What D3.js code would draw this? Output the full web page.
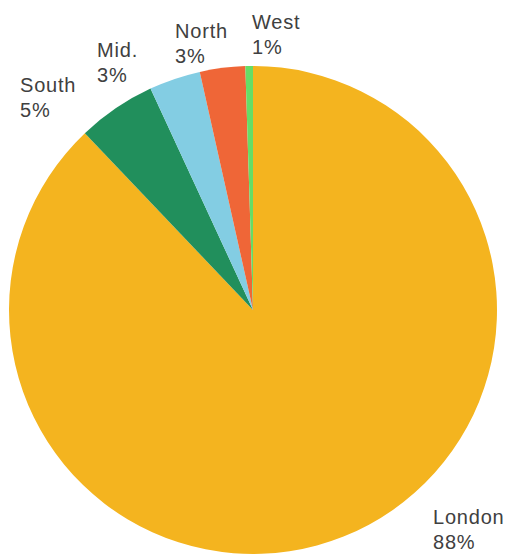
<!DOCTYPE html>
<html>
<head>
<meta charset="utf-8">
<script src="https://cdn.jsdelivr.net/npm/d3@7"></script>
<style>
  body { margin: 0; background: #fff; }
  .label { font-family: "Liberation Sans", Arial, sans-serif; font-size: 20px; fill: #404040; letter-spacing: 0.8px; }
</style>
</head>
<body>
<script>

// SVG Size
var width = 513,
    height = 557;

// Data (share of total)
var regions = ["London", "South", "Mid.", "North", "West"];
var shares  = [87.9, 5.2, 3.4, 3.0, 0.5];
var colors  = ["#F4B41F", "#218F5C", "#83CDE3", "#EF6637", "#66DD66"];

// Label anchor (left edge, first baseline) for each region
var labelPos = [[433, 524], [20, 92], [97, 57], [175, 38], [252, 29]];

var data = regions.map(function(r, i) {
  return { region: r, share: shares[i] };
});

var svg = d3.select("body").append("svg")
  .attr("width", width)
  .attr("height", height);

var cx = 253, cy = 310, radius = 244;

// Excel style: first slice starts at 12 o'clock, clockwise, no sorting
var pie = d3.pie()
  .sort(null)
  .value(function(d) { return d.share; });

var arc = d3.arc()
  .innerRadius(0)
  .outerRadius(radius);

var colorScale = d3.scaleOrdinal()
  .domain(regions)
  .range(colors);

var g = svg.append("g")
  .attr("transform", "translate(" + cx + "," + cy + ")");

g.selectAll("path")
  .data(pie(data))
  .enter()
  .append("path")
    .attr("d", arc)
    .attr("fill", function(d) { return colorScale(d.data.region); });

// Labels
var labels = svg.selectAll("text.label")
  .data(data)
  .enter()
  .append("text")
    .attr("class", "label")
    .attr("x", function(d, i) { return labelPos[i][0]; })
    .attr("y", function(d, i) { return labelPos[i][1]; });

labels.append("tspan")
  .attr("x", function(d, i) { return labelPos[i][0]; })
  .text(function(d) { return d.region; });

labels.append("tspan")
  .attr("x", function(d, i) { return labelPos[i][0]; })
  .attr("dy", 25)
  .text(function(d) { return Math.round(d.share) + "%"; });

</script>
</body>
</html>
